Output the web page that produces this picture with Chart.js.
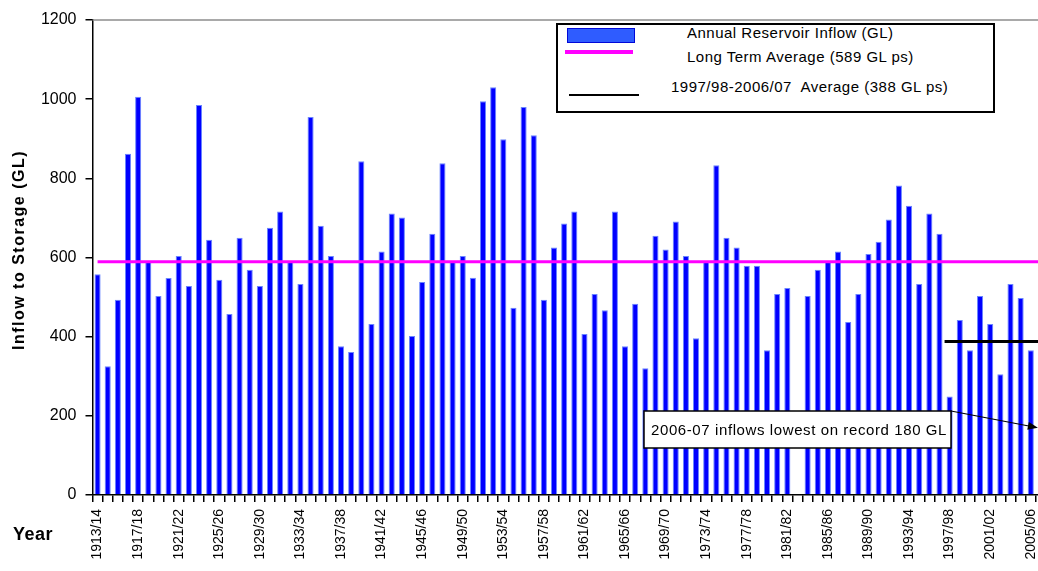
<!DOCTYPE html>
<html>
<head>
<meta charset="utf-8">
<title>Annual Reservoir Inflow</title>
<script src="https://cdn.jsdelivr.net/npm/chart.js@4.4.1/dist/chart.umd.min.js"></script>
<style>
  html, body { margin: 0; padding: 0; background: #fff; overflow: hidden; }
  #wrap { position: relative; width: 1038px; height: 571px; }
  #chart { display: block; }
  #legend {
    position: absolute; left: 556px; top: 23px; width: 435px; height: 86px;
    border: 2px solid #000; background: #fff;
    font-family: "Liberation Sans", Arial, sans-serif; font-size: 15px;
    letter-spacing: 0.5px; color: #000;
  }
  #legend .sw { position: absolute; box-sizing: border-box; }
  #legend .lt { position: absolute; white-space: pre; line-height: 16px; }
</style>
</head>
<body>
<div id="wrap">
  <canvas id="chart" width="1038" height="571"></canvas>
  <div id="legend">
    <div class="sw" style="left:9px;top:3px;width:68px;height:15px;background:#2f5cff;border:1.5px solid #0008d8;"></div>
    <div class="lt" style="left:129px;top:0px;">Annual Reservoir Inflow (GL)</div>
    <div class="sw" style="left:7px;top:25px;width:68px;height:4px;background:#ff00ff;"></div>
    <div class="lt" style="left:129px;top:24px;">Long Term Average (589 GL ps)</div>
    <div class="sw" style="left:11px;top:69px;width:70px;height:2px;background:#000;"></div>
    <div class="lt" style="left:113px;top:54px;">1997/98-2006/07  Average (388 GL ps)</div>
  </div>
</div>
<script>
// Water years, 1913/14 to 2006/07
const seasons = [
  '1913/14','1914/15','1915/16','1916/17','1917/18','1918/19','1919/20','1920/21','1921/22','1922/23',
  '1923/24','1924/25','1925/26','1926/27','1927/28','1928/29','1929/30','1930/31','1931/32','1932/33',
  '1933/34','1934/35','1935/36','1936/37','1937/38','1938/39','1939/40','1940/41','1941/42','1942/43',
  '1943/44','1944/45','1945/46','1946/47','1947/48','1948/49','1949/50','1950/51','1951/52','1952/53',
  '1953/54','1954/55','1955/56','1956/57','1957/58','1958/59','1959/60','1960/61','1961/62','1962/63',
  '1963/64','1964/65','1965/66','1966/67','1967/68','1968/69','1969/70','1970/71','1971/72','1972/73',
  '1973/74','1974/75','1975/76','1976/77','1977/78','1978/79','1979/80','1980/81','1981/82','1982/83',
  '1983/84','1984/85','1985/86','1986/87','1987/88','1988/89','1989/90','1990/91','1991/92','1992/93',
  '1993/94','1994/95','1995/96','1996/97','1997/98','1998/99','1999/00','2000/01','2001/02','2002/03',
  '2003/04','2004/05','2005/06','2006/07'
];

// Annual reservoir inflow (GL); 1982/83 has no record
const inflow = [
  558, 325, 493, 862, 1006, 590, 503, 548, 604, 528,
  985, 645, 544, 457, 650, 569, 528, 675, 716, 589,
  533, 955, 680, 604, 376, 361, 843, 432, 615, 711,
  701, 402, 538, 660, 838, 589, 604, 549, 995, 1030,
  899, 473, 980, 909, 493, 625, 686, 716, 407, 508,
  467, 716, 376, 483, 320, 655, 620, 691, 604, 396,
  589, 833, 650, 625, 579, 579, 366, 508, 523, null,
  503, 569, 589, 615, 437, 508, 609, 640, 696, 782,
  731, 533, 711, 660, 249, 442, 366, 503, 432, 305,
  533, 498, 366, 180
];

const longTermAverage = 589;     // GL per annum
const recentAverage = 388;       // GL per annum, 1997/98-2006/07
const recentStart = '1997/98';
const lowestSeason = '2006/07';
const yTicks = [0, 200, 400, 600, 800, 1000, 1200];

const FONT = '"Liberation Sans", Arial, sans-serif';
Chart.defaults.font.family = FONT;
Chart.defaults.color = '#000';

// The plot runs a few pixels past the right edge of the canvas,
// so the final season sits just outside the frame.
const overhang = {
  id: 'overhang',
  afterLayout(chart) {
    const extra = 8;
    const x = chart.scales.x;
    chart.chartArea.right += extra;
    chart.chartArea.width += extra;
    x.right += extra;
    x.width += extra;
    x.configure();
  }
};

const overlay = {
  id: 'overlay',
  afterDatasetsDraw(chart) {
    const { ctx, chartArea: a, scales: { x, y } } = chart;
    ctx.save();

    // plot frame, top edge
    ctx.strokeStyle = '#8c8c8c';
    ctx.lineWidth = 1.5;
    ctx.beginPath();
    ctx.moveTo(a.left, a.top);
    ctx.lineTo(a.right, a.top);
    ctx.stroke();

    // recent ten-year average, from the start of 1997/98
    const i0 = seasons.indexOf(recentStart);
    const half = (x.getPixelForValue(1) - x.getPixelForValue(0)) / 2;
    const yAvg = y.getPixelForValue(recentAverage);
    ctx.strokeStyle = '#000';
    ctx.lineWidth = 3;
    ctx.beginPath();
    ctx.moveTo(x.getPixelForValue(i0) - half, yAvg);
    ctx.lineTo(a.right, yAvg);
    ctx.stroke();

    // callout box
    const bx = 644, by = 411, bw = 307, bh = 37;
    ctx.fillStyle = '#fff';
    ctx.fillRect(bx, by, bw, bh);
    ctx.lineWidth = 1.5;
    ctx.strokeRect(bx, by, bw, bh);
    ctx.fillStyle = '#000';
    ctx.font = '15px ' + FONT;
    ctx.letterSpacing = '0.6px';
    ctx.textAlign = 'left';
    ctx.textBaseline = 'middle';
    ctx.fillText('2006-07 inflows lowest on record 180 GL', bx + 7, by + bh / 2 + 1);
    ctx.letterSpacing = '0px';

    // arrow to the 2006/07 bar
    const bar = chart.getDatasetMeta(1).data[seasons.indexOf(lowestSeason)];
    const tx = bar.x - bar.width / 2, ty = bar.y + 4;
    const sx = bx + bw, sy = by;
    const ang = Math.atan2(ty - sy, tx - sx);
    ctx.lineWidth = 1.2;
    ctx.beginPath();
    ctx.moveTo(sx, sy);
    ctx.lineTo(tx - 8 * Math.cos(ang), ty - 8 * Math.sin(ang));
    ctx.stroke();
    ctx.beginPath();
    ctx.moveTo(tx, ty);
    ctx.lineTo(tx - 10 * Math.cos(ang) + 4 * Math.sin(ang), ty - 10 * Math.sin(ang) - 4 * Math.cos(ang));
    ctx.lineTo(tx - 10 * Math.cos(ang) - 4 * Math.sin(ang), ty - 10 * Math.sin(ang) + 4 * Math.cos(ang));
    ctx.closePath();
    ctx.fill();

    ctx.restore();
  },
  afterDraw(chart) {
    const { ctx } = chart;
    ctx.save();
    ctx.fillStyle = '#000';
    // y-axis title
    ctx.translate(20, 250);
    ctx.rotate(-Math.PI / 2);
    ctx.font = 'bold 16px ' + FONT;
    ctx.letterSpacing = '1.5px';
    ctx.textAlign = 'center';
    ctx.textBaseline = 'middle';
    ctx.fillText('Inflow to Storage (GL)', 0, 0);
    ctx.setTransform(1, 0, 0, 1, 0, 0);
    // x-axis title
    ctx.letterSpacing = '0.5px';
    ctx.font = 'bold 18px ' + FONT;
    ctx.textAlign = 'left';
    ctx.fillText('Year', 13, 535);
    ctx.restore();
  }
};

new Chart(document.getElementById('chart'), {
  type: 'bar',
  data: {
    labels: seasons,
    datasets: [
      {
        type: 'line',
        label: 'Long Term Average (589 GL ps)',
        data: seasons.map(() => longTermAverage),
        borderColor: '#ff00ff',
        borderWidth: 3,
        pointRadius: 0,
        fill: false,
        order: 1
      },
      {
        type: 'bar',
        label: 'Annual Reservoir Inflow (GL)',
        data: inflow,
        backgroundColor: '#0000ff',
        borderColor: '#6a86ff',
        borderWidth: 1,
        barPercentage: 0.6,
        categoryPercentage: 1.0,
        order: 2
      }
    ]
  },
  options: {
    responsive: false,
    devicePixelRatio: 1,
    animation: false,
    layout: { padding: { top: 20, right: 0, left: 0, bottom: 0 } },
    plugins: { legend: { display: false }, tooltip: { enabled: false } },
    scales: {
      x: {
        type: 'category',
        offset: true,
        grid: { display: true, offset: true, drawOnChartArea: false, drawTicks: true, tickLength: 7, color: '#000', lineWidth: 1.5 },
        border: { display: true, color: '#000', width: 1.5 },
        ticks: {
          autoSkip: false, minRotation: 90, maxRotation: 90, padding: 7,
          font: { size: 14 }, color: '#000',
          callback: (v, i) => (i % 4 === 0 ? seasons[i] : '')
        },
        afterFit: (s) => { s.height = 76; s.paddingLeft = 0; s.paddingRight = 0; }
      },
      y: {
        min: yTicks[0],
        max: yTicks[yTicks.length - 1],
        afterBuildTicks: (s) => { s.ticks = yTicks.map((v) => ({ value: v })); },
        ticks: { padding: 9, font: { size: 16 }, color: '#000', callback: (v) => String(v) },
        grid: { display: true, drawOnChartArea: false, drawTicks: true, tickLength: 7, color: '#000', lineWidth: 1.5 },
        border: { display: true, color: '#000', width: 1.5 },
        afterFit: (s) => { s.width = 92.5; }
      }
    }
  },
  plugins: [overhang, overlay]
});
</script>
</body>
</html>
